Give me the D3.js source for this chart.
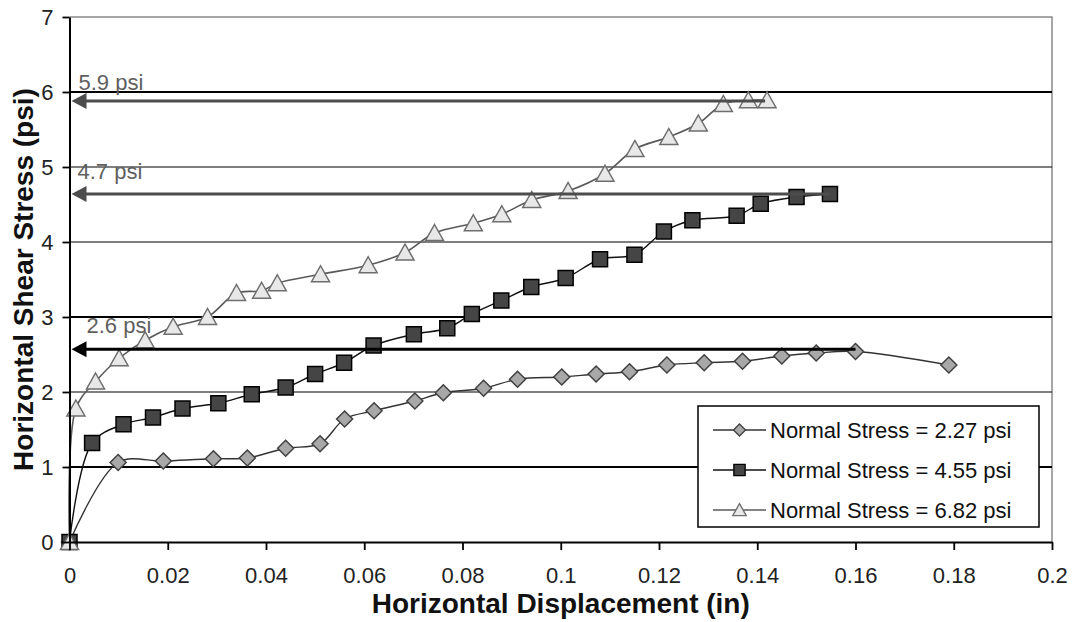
<!DOCTYPE html>
<html>
<head>
<meta charset="utf-8">
<script src="https://cdn.jsdelivr.net/npm/d3@7"></script>
<style>
  body { margin: 0; background: #fff; }
  svg { font-family: 'Liberation Sans', Arial, sans-serif; }
</style>
</head>
<body>
<svg width="1075" height="622"></svg>
<script>
// horizontal displacement (in) / shear stress (psi)
const disp227 = [0, 0.0099, 0.0191, 0.0293, 0.0362, 0.044, 0.051, 0.056, 0.062, 0.0703, 0.0761, 0.0843,
  0.0912, 0.1002, 0.1072, 0.114, 0.1216, 0.1292, 0.137, 0.145, 0.152, 0.16, 0.179];
const stress227 = [0, 1.06, 1.08, 1.11, 1.12, 1.25, 1.31, 1.64, 1.75, 1.88, 1.99, 2.05,
  2.17, 2.2, 2.24, 2.27, 2.36, 2.39, 2.41, 2.48, 2.52, 2.54, 2.36];

const disp455 = [0, 0.0046, 0.011, 0.017, 0.023, 0.0303, 0.0371, 0.044, 0.05, 0.0559, 0.0619, 0.0701, 0.0769,
  0.0819, 0.0879, 0.094, 0.101, 0.108, 0.115, 0.121, 0.1268, 0.1358, 0.1407, 0.148, 0.1548];
const stress455 = [0, 1.32, 1.57, 1.66, 1.78, 1.85, 1.97, 2.06, 2.24, 2.39, 2.62, 2.77, 2.85,
  3.04, 3.22, 3.4, 3.52, 3.77, 3.83, 4.14, 4.29, 4.35, 4.51, 4.6, 4.64];

const disp682 = [0, 0.0013, 0.0053, 0.0101, 0.0154, 0.0211, 0.0281, 0.034, 0.0391, 0.0423, 0.0511, 0.0608, 0.0683,
  0.0743, 0.0822, 0.088, 0.0941, 0.1015, 0.109, 0.1151, 0.122, 0.128, 0.1331, 0.1382, 0.142];
const stress682 = [0, 1.78, 2.14, 2.45, 2.69, 2.87, 3.0, 3.32, 3.35, 3.45, 3.57, 3.69, 3.86,
  4.12, 4.25, 4.37, 4.56, 4.68, 4.91, 5.24, 5.4, 5.58, 5.84, 5.89, 5.89];

const seriesNames = ['Normal Stress = 2.27 psi', 'Normal Stress = 4.55 psi', 'Normal Stress = 6.82 psi'];

const xTicks = [0, 0.02, 0.04, 0.06, 0.08, 0.1, 0.12, 0.14, 0.16, 0.18, 0.2];
const yTicks = [0, 1, 2, 3, 4, 5, 6, 7];

// peak stress callouts
const peakStress = [5.88, 4.64, 2.57];
const peakDisp = [0.1416, 0.1548, 0.16];
const peakLabels = ['5.9 psi', '4.7 psi', '2.6 psi'];

const svg = d3.select('svg');

const x = d3.scaleLinear().domain([0, 0.2]).range([69.5, 1052]);
const y = d3.scaleLinear().domain([0, 7]).range([542, 17]);

const series = [
  { name: seriesNames[0], xs: disp227, ys: stress227, marker: 'M0,-8L8,0L0,8L-8,0Z',
    fill: '#a8a8a8', stroke: '#404040', line: '#333', lw: 1.4 },
  { name: seriesNames[1], xs: disp455, ys: stress455, marker: 'M-7.5,-7.5h15v15h-15Z',
    fill: '#454545', stroke: '#000', line: '#111', lw: 1.4 },
  { name: seriesNames[2], xs: disp682, ys: stress682, marker: 'M0,-8.5L9,7.5L-9,7.5Z',
    fill: '#e8e8e8', stroke: '#6e6e6e', line: '#5a5a5a', lw: 1.6 }
];

// frame + gridlines
svg.append('path')
  .attr('d', `M${x(0)},${y(7)}H${x(0.2)}V${y(0)}`)
  .attr('fill', 'none')
  .attr('stroke', '#8a8a8a')
  .attr('stroke-width', 1.5);

svg.append('g')
  .selectAll('line')
  .data(yTicks.filter((d) => d > 0 && d < 7))
  .enter()
  .append('line')
  .attr('x1', x(0))
  .attr('x2', x(0.2))
  .attr('y1', (d) => y(d))
  .attr('y2', (d) => y(d))
  .attr('stroke', '#000')
  .attr('stroke-width', (d) => (d === 1 || d === 3 || d === 6 ? 1.8 : 1.1));

// smoothed lines + markers
const line = d3
  .line()
  .x((d) => x(d[0]))
  .y((d) => y(d[1]))
  .curve(d3.curveCatmullRom.alpha(0.5));

series.forEach((s) => {
  const pts = s.xs.map((v, i) => [v, s.ys[i]]);
  svg.append('path')
    .datum(pts)
    .attr('d', line)
    .attr('fill', 'none')
    .attr('stroke', s.line)
    .attr('stroke-width', s.lw);
  svg.append('g')
    .selectAll('path')
    .data(pts)
    .enter()
    .append('path')
    .attr('d', s.marker)
    .attr('transform', (d) => `translate(${x(d[0])},${y(d[1])})`)
    .attr('fill', s.fill)
    .attr('stroke', s.stroke)
    .attr('stroke-width', 1.5);
});

// arrows pointing at the axis
const arrowColors = ['#4d4d4d', '#4d4d4d', '#000'];
const labelDx = [9, 8, 17];
const labelDy = [-11, -15, -16];

peakStress.forEach((v, i) => {
  const yy = y(v),
    tip = x(0) + 2;
  svg.append('line')
    .attr('x1', x(peakDisp[i]))
    .attr('x2', tip + 12)
    .attr('y1', yy)
    .attr('y2', yy)
    .attr('stroke', arrowColors[i])
    .attr('stroke-width', 3.2);
  svg.append('path')
    .attr('d', `M${tip},${yy}L${tip + 15},${yy - 8}L${tip + 15},${yy + 8}Z`)
    .attr('fill', arrowColors[i]);
  svg.append('text')
    .attr('x', x(0) + labelDx[i])
    .attr('y', yy + labelDy[i])
    .attr('font-size', '22px')
    .attr('fill', '#5f5f5f')
    .text(peakLabels[i]);
});

// legend
const legend = svg.append('g').attr('transform', 'translate(698, 406)');
legend.append('rect')
  .attr('width', 341)
  .attr('height', 121)
  .attr('fill', '#fff')
  .attr('stroke', '#000')
  .attr('stroke-width', 1.5);

const rows = legend
  .selectAll('.row')
  .data(series)
  .enter()
  .append('g')
  .attr('class', 'row')
  .attr('transform', (d, i) => `translate(0, ${24 + i * 40})`);

rows.append('line')
  .attr('x1', 15)
  .attr('x2', 68)
  .attr('stroke', (d) => d.line)
  .attr('stroke-width', 1.5);
rows.append('path')
  .attr('d', (d) => d.marker)
  .attr('transform', 'translate(41.5,0) scale(0.75)')
  .attr('fill', (d) => d.fill)
  .attr('stroke', (d) => d.stroke)
  .attr('stroke-width', 1.8);
rows.append('text')
  .attr('x', 72)
  .attr('dy', '0.35em')
  .attr('font-size', '22px')
  .attr('fill', '#111')
  .text((d) => d.name);

// axes
const yAxis = svg.append('g')
  .attr('transform', `translate(${x(0)},0)`)
  .call(d3.axisLeft(y).tickValues(yTicks).tickSize(7).tickSizeOuter(0).tickPadding(9)
    .tickFormat((d) => d));

const xAxis = svg.append('g')
  .attr('transform', `translate(0,${y(0)})`)
  .call(d3.axisBottom(x).tickValues(xTicks).tickSize(8).tickSizeOuter(0).tickPadding(17)
    .tickFormat((d) => d));

[yAxis, xAxis].forEach((a) => {
  a.select('.domain').attr('stroke', '#000').attr('stroke-width', 2);
  a.selectAll('.tick line').attr('stroke', '#000').attr('stroke-width', 1.8);
  a.selectAll('.tick text')
    .attr('font-family', "'Liberation Sans', Arial, sans-serif")
    .attr('font-size', '22px')
    .attr('fill', '#222');
});

svg.append('text')
  .attr('x', (x(0) + x(0.2)) / 2)
  .attr('y', 613)
  .attr('text-anchor', 'middle')
  .attr('font-size', '28px')
  .attr('font-weight', 'bold')
  .attr('fill', '#111')
  .text('Horizontal Displacement (in)');

svg.append('text')
  .attr('transform', `translate(33, ${(y(0) + y(7)) / 2}) rotate(-90)`)
  .attr('text-anchor', 'middle')
  .attr('font-size', '28px')
  .attr('font-weight', 'bold')
  .attr('fill', '#111')
  .text('Horizontal Shear Stress (psi)');
</script>
</body>
</html>
